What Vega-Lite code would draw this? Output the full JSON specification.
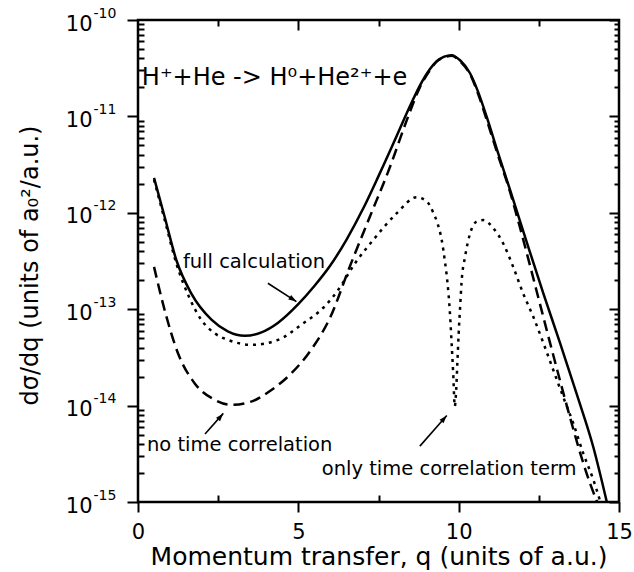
{
  "$schema": "https://vega.github.io/schema/vega-lite/v6.json",
  "width": 481,
  "height": 482,
  "autosize": {"type": "none"},
  "padding": {"left": 138, "top": 20, "right": 15, "bottom": 70},
  "config": {
    "view": {"stroke": "black", "strokeWidth": 2.5},
    "axis": {
      "grid": false,
      "domain": false,
      "tickColor": "black",
      "tickWidth": 2,
      "labelColor": "black",
      "labelFont": "DejaVu Sans",
      "labelFontSize": 21,
      "labelFlush": false,
      "labelOverlap": false,
      "labelBound": false,
      "titleColor": "black",
      "titleFont": "DejaVu Sans",
      "titleFontSize": 24,
      "titleFontWeight": "normal"
    }
  },
  "datasets": {
    "curves": [
      {"s": "full", "q": 0.5, "v": 2.3e-12},
      {"s": "full", "q": 0.83, "v": 9.1e-13},
      {"s": "full", "q": 1.2, "v": 3.2e-13},
      {"s": "full", "q": 1.66, "v": 1.46e-13},
      {"s": "full", "q": 2.29, "v": 7.8e-14},
      {"s": "full", "q": 2.8, "v": 5.9e-14},
      {"s": "full", "q": 3.33, "v": 5.3e-14},
      {"s": "full", "q": 3.85, "v": 5.75e-14},
      {"s": "full", "q": 4.37, "v": 7.24e-14},
      {"s": "full", "q": 4.99, "v": 1.12e-13},
      {"s": "full", "q": 5.5, "v": 1.74e-13},
      {"s": "full", "q": 5.99, "v": 2.82e-13},
      {"s": "full", "q": 6.5, "v": 5.25e-13},
      {"s": "full", "q": 7.03, "v": 1.12e-12},
      {"s": "full", "q": 7.5, "v": 2.4e-12},
      {"s": "full", "q": 8.07, "v": 6.3e-12},
      {"s": "full", "q": 8.5, "v": 1.32e-11},
      {"s": "full", "q": 8.79, "v": 2.09e-11},
      {"s": "full", "q": 9.1, "v": 3.09e-11},
      {"s": "full", "q": 9.31, "v": 3.72e-11},
      {"s": "full", "q": 9.55, "v": 4.17e-11},
      {"s": "full", "q": 9.78, "v": 4.32e-11},
      {"s": "full", "q": 10.05, "v": 3.8e-11},
      {"s": "full", "q": 10.35, "v": 2.82e-11},
      {"s": "full", "q": 10.6, "v": 1.82e-11},
      {"s": "full", "q": 10.87, "v": 1.0e-11},
      {"s": "full", "q": 11.2, "v": 4.47e-12},
      {"s": "full", "q": 11.6, "v": 1.74e-12},
      {"s": "full", "q": 12.12, "v": 5.0e-13},
      {"s": "full", "q": 12.64, "v": 1.46e-13},
      {"s": "full", "q": 13.16, "v": 4.47e-14},
      {"s": "full", "q": 13.68, "v": 1.32e-14},
      {"s": "full", "q": 14.2, "v": 3.7e-15},
      {"s": "full", "q": 14.62, "v": 1.0e-15},

      {"s": "nocorr", "q": 0.5, "v": 2.75e-13},
      {"s": "nocorr", "q": 0.83, "v": 9.8e-14},
      {"s": "nocorr", "q": 1.25, "v": 3.47e-14},
      {"s": "nocorr", "q": 1.77, "v": 1.7e-14},
      {"s": "nocorr", "q": 2.39, "v": 1.15e-14},
      {"s": "nocorr", "q": 2.91, "v": 1.02e-14},
      {"s": "nocorr", "q": 3.53, "v": 1.1e-14},
      {"s": "nocorr", "q": 4.16, "v": 1.45e-14},
      {"s": "nocorr", "q": 4.78, "v": 2.16e-14},
      {"s": "nocorr", "q": 5.4, "v": 3.8e-14},
      {"s": "nocorr", "q": 6.0, "v": 8.3e-14},
      {"s": "nocorr", "q": 6.61, "v": 2.8e-13},
      {"s": "nocorr", "q": 7.23, "v": 9.1e-13},
      {"s": "nocorr", "q": 7.86, "v": 3.0e-12},
      {"s": "nocorr", "q": 8.38, "v": 9.1e-12},
      {"s": "nocorr", "q": 8.79, "v": 2.0e-11},
      {"s": "nocorr", "q": 9.1, "v": 3.0e-11},
      {"s": "nocorr", "q": 9.31, "v": 3.7e-11},
      {"s": "nocorr", "q": 9.55, "v": 4.1e-11},
      {"s": "nocorr", "q": 9.78, "v": 4.27e-11},
      {"s": "nocorr", "q": 10.05, "v": 3.7e-11},
      {"s": "nocorr", "q": 10.35, "v": 2.75e-11},
      {"s": "nocorr", "q": 10.6, "v": 1.74e-11},
      {"s": "nocorr", "q": 10.87, "v": 9.3e-12},
      {"s": "nocorr", "q": 11.2, "v": 4.2e-12},
      {"s": "nocorr", "q": 11.6, "v": 1.66e-12},
      {"s": "nocorr", "q": 11.91, "v": 7.08e-13},
      {"s": "nocorr", "q": 12.22, "v": 2.88e-13},
      {"s": "nocorr", "q": 12.53, "v": 1.15e-13},
      {"s": "nocorr", "q": 12.85, "v": 4.47e-14},
      {"s": "nocorr", "q": 13.16, "v": 1.82e-14},
      {"s": "nocorr", "q": 13.47, "v": 7.6e-15},
      {"s": "nocorr", "q": 13.78, "v": 3.3e-15},
      {"s": "nocorr", "q": 14.1, "v": 1.55e-15},
      {"s": "nocorr", "q": 14.32, "v": 1.0e-15},

      {"s": "corr", "q": 0.5, "v": 2.2e-12},
      {"s": "corr", "q": 0.83, "v": 8.5e-13},
      {"s": "corr", "q": 1.2, "v": 2.95e-13},
      {"s": "corr", "q": 1.6, "v": 1.32e-13},
      {"s": "corr", "q": 1.97, "v": 7.8e-14},
      {"s": "corr", "q": 2.4, "v": 5.6e-14},
      {"s": "corr", "q": 2.81, "v": 4.8e-14},
      {"s": "corr", "q": 3.53, "v": 4.27e-14},
      {"s": "corr", "q": 4.37, "v": 4.8e-14},
      {"s": "corr", "q": 5.09, "v": 6.9e-14},
      {"s": "corr", "q": 5.82, "v": 1.07e-13},
      {"s": "corr", "q": 6.24, "v": 1.58e-13},
      {"s": "corr", "q": 6.77, "v": 3.0e-13},
      {"s": "corr", "q": 7.34, "v": 5.25e-13},
      {"s": "corr", "q": 8.07, "v": 9.9e-13},
      {"s": "corr", "q": 8.69, "v": 1.45e-12},
      {"s": "corr", "q": 9.0, "v": 1.32e-12},
      {"s": "corr", "q": 9.21, "v": 1.0e-12},
      {"s": "corr", "q": 9.35, "v": 7.6e-13},
      {"s": "corr", "q": 9.47, "v": 5.25e-13},
      {"s": "corr", "q": 9.57, "v": 3.16e-13},
      {"s": "corr", "q": 9.65, "v": 1.9e-13},
      {"s": "corr", "q": 9.72, "v": 1.0e-13},
      {"s": "corr", "q": 9.78, "v": 4.47e-14},
      {"s": "corr", "q": 9.83, "v": 2.14e-14},
      {"s": "corr", "q": 9.88, "v": 9.8e-15},
      {"s": "corr", "q": 9.92, "v": 1.41e-14},
      {"s": "corr", "q": 9.96, "v": 2.8e-14},
      {"s": "corr", "q": 10.0, "v": 5.6e-14},
      {"s": "corr", "q": 10.05, "v": 1.12e-13},
      {"s": "corr", "q": 10.09, "v": 1.9e-13},
      {"s": "corr", "q": 10.2, "v": 3.5e-13},
      {"s": "corr", "q": 10.35, "v": 6.0e-13},
      {"s": "corr", "q": 10.56, "v": 8.1e-13},
      {"s": "corr", "q": 10.77, "v": 8.4e-13},
      {"s": "corr", "q": 11.1, "v": 6.8e-13},
      {"s": "corr", "q": 11.39, "v": 4.8e-13},
      {"s": "corr", "q": 11.7, "v": 2.75e-13},
      {"s": "corr", "q": 12.01, "v": 1.46e-13},
      {"s": "corr", "q": 12.33, "v": 8.3e-14},
      {"s": "corr", "q": 12.64, "v": 4.47e-14},
      {"s": "corr", "q": 12.95, "v": 2.34e-14},
      {"s": "corr", "q": 13.26, "v": 1.23e-14},
      {"s": "corr", "q": 13.57, "v": 6.6e-15},
      {"s": "corr", "q": 13.89, "v": 3.16e-15},
      {"s": "corr", "q": 14.2, "v": 1.7e-15},
      {"s": "corr", "q": 14.42, "v": 1.0e-15}
    ],
    "heading": [
      {"label": "H⁺+He -> H⁰+He²⁺+e", "q": 0.12, "v": 2.12e-11}
    ],
    "notes": [
      {"label": "full calculation", "q": 1.4, "v": 2.65e-13},
      {"label": "no time correlation", "q": 0.28, "v": 3.4e-15},
      {"label": "only time correlation term", "q": 5.73, "v": 1.9e-15}
    ],
    "arrows": [
      {"name": "full", "q": 4.05, "v": 1.86e-13, "q2": 4.94, "v2": 1.2e-13},
      {"name": "nocorr", "q": 2.09, "v": 5.07e-15, "q2": 2.66, "v2": 8.3e-15},
      {"name": "corr", "q": 8.79, "v": 3.8e-15, "q2": 9.63, "v2": 7.9e-15}
    ]
  },
  "layer": [
    {
      "data": {"name": "curves"},
      "transform": [{"filter": "datum.s === 'full'"}],
      "mark": {"type": "line", "color": "black", "strokeWidth": 2.5, "interpolate": "monotone"},
      "encoding": {
        "x": {
          "field": "q", "type": "quantitative",
          "scale": {"domain": [0, 15], "nice": false, "zero": false},
          "axis": {
            "orient": "bottom", "values": [0, 5, 10, 15], "tickSize": 10, "labelPadding": 9,
            "title": "Momentum transfer, q (units of a.u.)",
            "titleX": 240.5, "titleY": 62, "titleBaseline": "alphabetic", "titleAlign": "center", "titleFontSize": 25
          }
        },
        "y": {
          "field": "v", "type": "quantitative",
          "scale": {"type": "log", "domain": [1e-15, 1e-10], "nice": false},
          "axis": {
            "orient": "left", "values": [1e-15, 1e-14, 1e-13, 1e-12, 1e-11, 1e-10],
            "tickSize": 11, "labelPadding": 35, "labelOffset": 4, "labelBaseline": "middle",
            "labelExpr": "'10'",
            "title": "dσ/dq (units of a₀²/a.u.)",
            "titleX": -101, "titleY": 245, "titleAngle": -90, "titleBaseline": "alphabetic", "titleAlign": "center"
          }
        }
      }
    },
    {
      "data": {"name": "curves"},
      "transform": [{"filter": "datum.s === 'nocorr'"}],
      "mark": {"type": "line", "color": "black", "strokeWidth": 2.5, "strokeDash": [11, 6], "interpolate": "monotone"},
      "encoding": {
        "x": {
          "field": "q", "type": "quantitative",
          "scale": {"domain": [0, 15], "nice": false, "zero": false},
          "axis": {"orient": "bottom", "values": [2.5, 7.5, 12.5], "tickSize": -7, "labels": false, "title": null}
        },
        "y": {
          "field": "v", "type": "quantitative",
          "scale": {"type": "log", "domain": [1e-15, 1e-10], "nice": false},
          "axis": {
            "orient": "left", "tickSize": -6, "labels": false, "title": null,
            "values": [2e-15, 3e-15, 4e-15, 5e-15, 6e-15, 7e-15, 8e-15, 9e-15,
                       2e-14, 3e-14, 4e-14, 5e-14, 6e-14, 7e-14, 8e-14, 9e-14,
                       2e-13, 3e-13, 4e-13, 5e-13, 6e-13, 7e-13, 8e-13, 9e-13,
                       2e-12, 3e-12, 4e-12, 5e-12, 6e-12, 7e-12, 8e-12, 9e-12,
                       2e-11, 3e-11, 4e-11, 5e-11, 6e-11, 7e-11, 8e-11, 9e-11]
          }
        }
      }
    },
    {
      "data": {"name": "curves"},
      "transform": [{"filter": "datum.s === 'corr'"}],
      "mark": {"type": "line", "color": "black", "strokeWidth": 2.5, "strokeDash": [3, 5], "interpolate": "monotone"},
      "encoding": {
        "x": {
          "field": "q", "type": "quantitative",
          "scale": {"domain": [0, 15], "nice": false, "zero": false},
          "axis": {"orient": "top", "values": [5, 10], "tickSize": -10, "labels": false, "title": null}
        },
        "y": {
          "field": "v", "type": "quantitative",
          "scale": {"type": "log", "domain": [1e-15, 1e-10], "nice": false},
          "axis": {"orient": "right", "values": [1e-15, 1e-14, 1e-13, 1e-12, 1e-11, 1e-10], "tickSize": -10, "labels": false, "title": null}
        }
      }
    },
    {
      "data": {"name": "notes"},
      "mark": {"type": "text", "align": "left", "baseline": "alphabetic", "font": "DejaVu Sans", "fontSize": 19.5, "color": "black"},
      "encoding": {
        "text": {"field": "label"},
        "x": {
          "field": "q", "type": "quantitative",
          "scale": {"domain": [0, 15], "nice": false, "zero": false},
          "axis": {"orient": "top", "values": [2.5, 7.5, 12.5], "tickSize": -6, "labels": false, "title": null}
        },
        "y": {
          "field": "v", "type": "quantitative",
          "scale": {"type": "log", "domain": [1e-15, 1e-10], "nice": false},
          "axis": {
            "orient": "right", "tickSize": -5, "labels": false, "title": null,
            "values": [2e-15, 3e-15, 4e-15, 5e-15, 6e-15, 7e-15, 8e-15, 9e-15,
                       2e-14, 3e-14, 4e-14, 5e-14, 6e-14, 7e-14, 8e-14, 9e-14,
                       2e-13, 3e-13, 4e-13, 5e-13, 6e-13, 7e-13, 8e-13, 9e-13,
                       2e-12, 3e-12, 4e-12, 5e-12, 6e-12, 7e-12, 8e-12, 9e-12,
                       2e-11, 3e-11, 4e-11, 5e-11, 6e-11, 7e-11, 8e-11, 9e-11]
          }
        }
      }
    },
    {
      "data": {"name": "arrows"},
      "mark": {"type": "rule", "color": "black", "strokeWidth": 1.6},
      "encoding": {
        "x": {"field": "q", "type": "quantitative", "scale": {"domain": [0, 15], "nice": false, "zero": false}, "axis": null},
        "x2": {"field": "q2"},
        "y": {
          "field": "v", "type": "quantitative",
          "scale": {"type": "log", "domain": [1e-15, 1e-10], "nice": false},
          "axis": {
            "orient": "left", "values": [1e-15, 1e-14, 1e-13, 1e-12, 1e-11, 1e-10],
            "tickSize": 0, "tickColor": "transparent", "labelPadding": 45, "labelAlign": "left", "labelBaseline": "middle",
            "labelOffset": -7, "labelFontSize": 14, "title": null,
            "labelExpr": "'-' + round(-log(datum.value) / LN10)"
          }
        },
        "y2": {"field": "v2"}
      }
    },
    {
      "data": {"name": "heading"},
      "mark": {"type": "text", "align": "left", "baseline": "alphabetic", "font": "DejaVu Sans", "fontSize": 24, "color": "black"},
      "encoding": {
        "text": {"field": "label"},
        "x": {"field": "q", "type": "quantitative", "scale": {"domain": [0, 15], "nice": false, "zero": false}, "axis": null},
        "y": {"field": "v", "type": "quantitative", "scale": {"type": "log", "domain": [1e-15, 1e-10], "nice": false}, "axis": null}
      }
    },
    {
      "data": {"name": "arrows"},
      "transform": [{"filter": "datum.name === 'full'"}],
      "mark": {"type": "point", "shape": "M0,0 L0.33,1 L-0.33,1 Z", "filled": true, "color": "black", "opacity": 1, "size": 256, "angle": 123},
      "encoding": {
        "x": {"field": "q2", "type": "quantitative", "scale": {"domain": [0, 15], "nice": false, "zero": false}, "axis": null},
        "y": {"field": "v2", "type": "quantitative", "scale": {"type": "log", "domain": [1e-15, 1e-10], "nice": false}, "axis": null}
      }
    },
    {
      "data": {"name": "arrows"},
      "transform": [{"filter": "datum.name !== 'full'"}],
      "mark": {"type": "point", "shape": "M0,0 L0.33,1 L-0.33,1 Z", "filled": true, "color": "black", "opacity": 1, "size": 256, "angle": 41},
      "encoding": {
        "x": {"field": "q2", "type": "quantitative", "scale": {"domain": [0, 15], "nice": false, "zero": false}, "axis": null},
        "y": {"field": "v2", "type": "quantitative", "scale": {"type": "log", "domain": [1e-15, 1e-10], "nice": false}, "axis": null}
      }
    }
  ],
  "resolve": {"axis": {"x": "independent", "y": "independent"}}
}
